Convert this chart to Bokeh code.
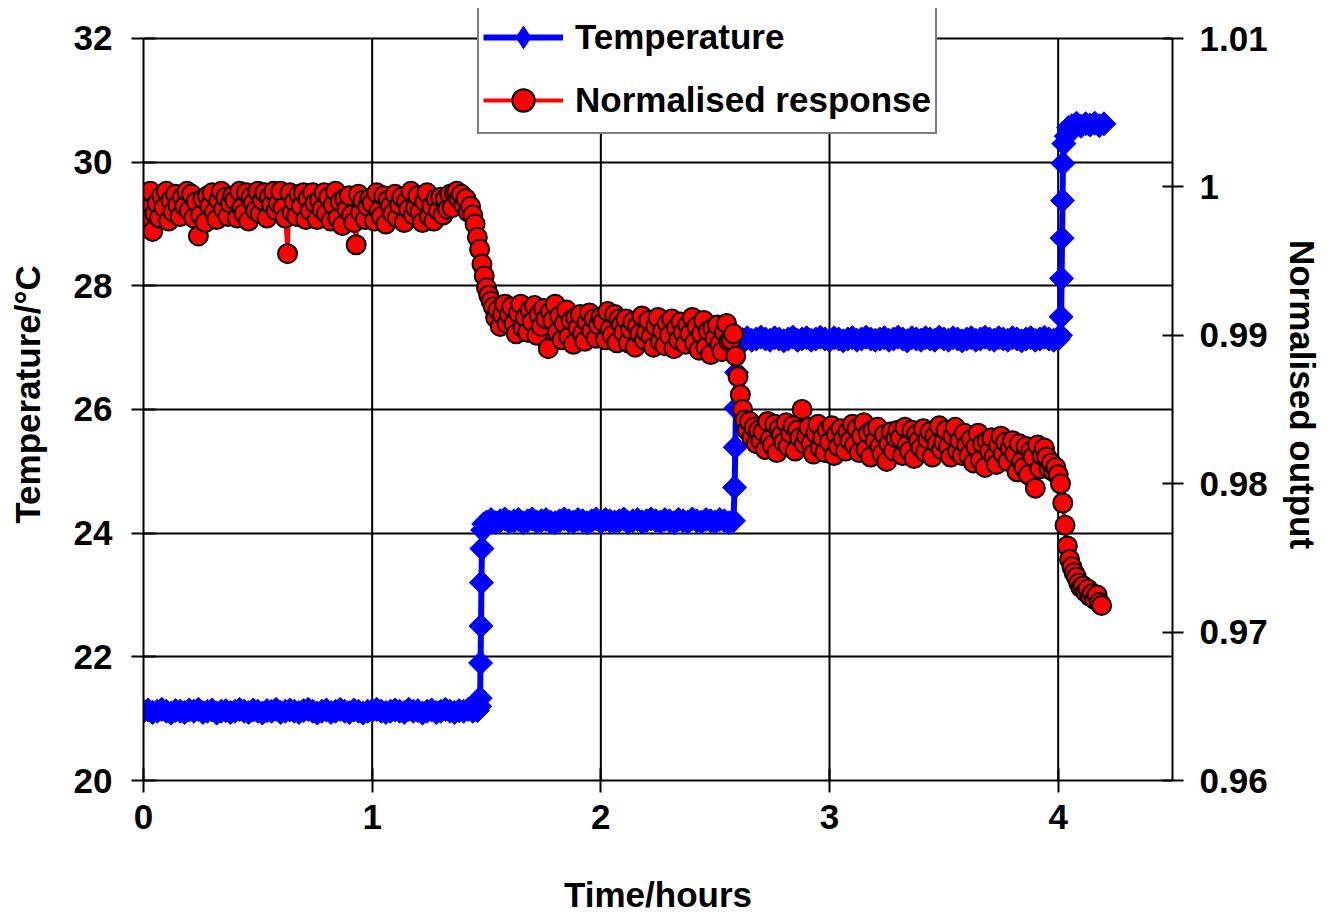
import numpy as np
from bokeh.plotting import figure
from bokeh.models import (Range1d, LinearAxis, FixedTicker, Legend, LegendItem,
                          CustomJSTickFormatter)
from bokeh.embed import file_html
from bokeh.resources import INLINE

# ---- temperature log (hours, deg C) ----
temp_hours = [
    0.00, 0.02, 0.04, 0.06, 0.08, 0.10, 0.12, 0.14, 0.16, 0.18,
    0.20, 0.22, 0.24, 0.26, 0.28, 0.30, 0.32, 0.34, 0.36, 0.38,
    0.40, 0.42, 0.44, 0.46, 0.48, 0.50, 0.52, 0.54, 0.56, 0.58,
    0.60, 0.62, 0.64, 0.66, 0.68, 0.70, 0.72, 0.74, 0.76, 0.78,
    0.80, 0.82, 0.84, 0.86, 0.88, 0.90, 0.92, 0.94, 0.96, 0.98,
    1.00, 1.02, 1.04, 1.06, 1.08, 1.10, 1.12, 1.14, 1.16, 1.18,
    1.20, 1.22, 1.24, 1.26, 1.28, 1.30, 1.32, 1.34, 1.36, 1.38,
    1.40, 1.42, 1.44, 1.46,
    1.470, 1.472, 1.474, 1.476, 1.478, 1.480, 1.483, 1.488,
    1.50, 1.52, 1.54, 1.56, 1.58, 1.60, 1.62, 1.64, 1.66, 1.68,
    1.70, 1.72, 1.74, 1.76, 1.78, 1.80, 1.82, 1.84, 1.86, 1.88,
    1.90, 1.92, 1.94, 1.96, 1.98, 2.00, 2.02, 2.04, 2.06, 2.08,
    2.10, 2.12, 2.14, 2.16, 2.18, 2.20, 2.22, 2.24, 2.26, 2.28,
    2.30, 2.32, 2.34, 2.36, 2.38, 2.40, 2.42, 2.44, 2.46, 2.48,
    2.50, 2.52, 2.54, 2.56, 2.58,
    2.585, 2.588, 2.591, 2.594, 2.597, 2.600,
    2.62, 2.64, 2.66, 2.68, 2.70, 2.72, 2.74, 2.76, 2.78, 2.80,
    2.82, 2.84, 2.86, 2.88, 2.90, 2.92, 2.94, 2.96, 2.98, 3.00,
    3.02, 3.04, 3.06, 3.08, 3.10, 3.12, 3.14, 3.16, 3.18, 3.20,
    3.22, 3.24, 3.26, 3.28, 3.30, 3.32, 3.34, 3.36, 3.38, 3.40,
    3.42, 3.44, 3.46, 3.48, 3.50, 3.52, 3.54, 3.56, 3.58, 3.60,
    3.62, 3.64, 3.66, 3.68, 3.70, 3.72, 3.74, 3.76, 3.78, 3.80,
    3.82, 3.84, 3.86, 3.88, 3.90, 3.92, 3.94, 3.96, 3.98, 4.00,
    4.010, 4.013, 4.015, 4.017, 4.019, 4.021, 4.025, 4.035, 4.045,
    4.06, 4.08, 4.10, 4.12, 4.14, 4.16, 4.18, 4.20,
]
temp_values = [
    21.12, 21.14, 21.10, 21.12, 21.15, 21.12, 21.09, 21.13, 21.12, 21.10,
    21.14, 21.12, 21.15, 21.10, 21.12, 21.14, 21.09, 21.12, 21.13, 21.10,
    21.12, 21.15, 21.12, 21.10, 21.14, 21.12, 21.09, 21.13, 21.12, 21.15,
    21.10, 21.12, 21.14, 21.12, 21.10, 21.13, 21.15, 21.12, 21.09, 21.12,
    21.14, 21.10, 21.12, 21.15, 21.12, 21.10, 21.14, 21.12, 21.09, 21.12,
    21.13, 21.15, 21.12, 21.10, 21.12, 21.14, 21.12, 21.10, 21.15, 21.12,
    21.13, 21.09, 21.12, 21.14, 21.10, 21.12, 21.15, 21.12, 21.10, 21.13,
    21.12, 21.15, 21.12, 21.13,
    21.20, 21.33, 21.90, 22.50, 23.20, 23.75, 24.05, 24.15,
    24.18, 24.22, 24.17, 24.20, 24.23, 24.18, 24.20, 24.22, 24.17, 24.20,
    24.23, 24.18, 24.20, 24.22, 24.18, 24.17, 24.20, 24.23, 24.20, 24.18,
    24.22, 24.20, 24.17, 24.20, 24.23, 24.18, 24.22, 24.20, 24.18, 24.20,
    24.23, 24.17, 24.20, 24.22, 24.18, 24.20, 24.23, 24.20, 24.18, 24.22,
    24.20, 24.17, 24.22, 24.20, 24.18, 24.23, 24.20, 24.18, 24.22, 24.20,
    24.18, 24.22, 24.20, 24.17, 24.20,
    24.74, 25.39, 26.02, 26.60, 27.00, 27.12,
    27.13, 27.16, 27.12, 27.14, 27.17, 27.14, 27.12, 27.16, 27.14, 27.11,
    27.14, 27.17, 27.12, 27.14, 27.16, 27.12, 27.14, 27.17, 27.14, 27.12,
    27.16, 27.14, 27.11, 27.14, 27.16, 27.12, 27.14, 27.17, 27.14, 27.12,
    27.14, 27.16, 27.12, 27.14, 27.17, 27.14, 27.11, 27.16, 27.14, 27.12,
    27.16, 27.14, 27.12, 27.17, 27.14, 27.12, 27.16, 27.14, 27.11, 27.14,
    27.16, 27.12, 27.14, 27.17, 27.14, 27.12, 27.16, 27.14, 27.12, 27.16,
    27.14, 27.11, 27.14, 27.16, 27.12, 27.14, 27.17, 27.14, 27.12, 27.14,
    27.20, 27.50, 28.12, 28.77, 29.38, 29.98, 30.30, 30.42, 30.56,
    30.59, 30.63, 30.58, 30.62, 30.60, 30.63, 30.59, 30.62,
]

# ---- normalised sensor output, logged every 0.01 h ----
resp_hours = [
    0.00, 0.01, 0.02, 0.03, 0.04, 0.05, 0.06, 0.07, 0.08, 0.09,
    0.10, 0.11, 0.12, 0.13, 0.14, 0.15, 0.16, 0.17, 0.18, 0.19,
    0.20, 0.21, 0.22, 0.23, 0.24, 0.25, 0.26, 0.27, 0.28, 0.29,
    0.30, 0.31, 0.32, 0.33, 0.34, 0.35, 0.36, 0.37, 0.38, 0.39,
    0.40, 0.41, 0.42, 0.43, 0.44, 0.45, 0.46, 0.47, 0.48, 0.49,
    0.50, 0.51, 0.52, 0.53, 0.54, 0.55, 0.56, 0.57, 0.58, 0.59,
    0.60, 0.61, 0.62, 0.63, 0.64, 0.65, 0.66, 0.67, 0.68, 0.69,
    0.70, 0.71, 0.72, 0.73, 0.74, 0.75, 0.76, 0.77, 0.78, 0.79,
    0.80, 0.81, 0.82, 0.83, 0.84, 0.85, 0.86, 0.87, 0.88, 0.89,
    0.90, 0.91, 0.92, 0.93, 0.94, 0.95, 0.96, 0.97, 0.98, 0.99,
    1.00, 1.01, 1.02, 1.03, 1.04, 1.05, 1.06, 1.07, 1.08, 1.09,
    1.10, 1.11, 1.12, 1.13, 1.14, 1.15, 1.16, 1.17, 1.18, 1.19,
    1.20, 1.21, 1.22, 1.23, 1.24, 1.25, 1.26, 1.27, 1.28, 1.29,
    1.30, 1.31, 1.32, 1.33, 1.34, 1.35, 1.36, 1.37, 1.38, 1.39,
    1.40, 1.41, 1.42, 1.43, 1.44, 1.45, 1.46, 1.47, 1.48, 1.49,
    1.50, 1.51, 1.52, 1.53, 1.54, 1.55, 1.56, 1.57, 1.58, 1.59,
    1.60, 1.61, 1.62, 1.63, 1.64, 1.65, 1.66, 1.67, 1.68, 1.69,
    1.70, 1.71, 1.72, 1.73, 1.74, 1.75, 1.76, 1.77, 1.78, 1.79,
    1.80, 1.81, 1.82, 1.83, 1.84, 1.85, 1.86, 1.87, 1.88, 1.89,
    1.90, 1.91, 1.92, 1.93, 1.94, 1.95, 1.96, 1.97, 1.98, 1.99,
    2.00, 2.01, 2.02, 2.03, 2.04, 2.05, 2.06, 2.07, 2.08, 2.09,
    2.10, 2.11, 2.12, 2.13, 2.14, 2.15, 2.16, 2.17, 2.18, 2.19,
    2.20, 2.21, 2.22, 2.23, 2.24, 2.25, 2.26, 2.27, 2.28, 2.29,
    2.30, 2.31, 2.32, 2.33, 2.34, 2.35, 2.36, 2.37, 2.38, 2.39,
    2.40, 2.41, 2.42, 2.43, 2.44, 2.45, 2.46, 2.47, 2.48, 2.49,
    2.50, 2.51, 2.52, 2.53, 2.54, 2.55, 2.56, 2.57, 2.58, 2.59,
    2.60, 2.61, 2.62, 2.63, 2.64, 2.65, 2.66, 2.67, 2.68, 2.69,
    2.70, 2.71, 2.72, 2.73, 2.74, 2.75, 2.76, 2.77, 2.78, 2.79,
    2.80, 2.81, 2.82, 2.83, 2.84, 2.85, 2.86, 2.87, 2.88, 2.89,
    2.90, 2.91, 2.92, 2.93, 2.94, 2.95, 2.96, 2.97, 2.98, 2.99,
    3.00, 3.01, 3.02, 3.03, 3.04, 3.05, 3.06, 3.07, 3.08, 3.09,
    3.10, 3.11, 3.12, 3.13, 3.14, 3.15, 3.16, 3.17, 3.18, 3.19,
    3.20, 3.21, 3.22, 3.23, 3.24, 3.25, 3.26, 3.27, 3.28, 3.29,
    3.30, 3.31, 3.32, 3.33, 3.34, 3.35, 3.36, 3.37, 3.38, 3.39,
    3.40, 3.41, 3.42, 3.43, 3.44, 3.45, 3.46, 3.47, 3.48, 3.49,
    3.50, 3.51, 3.52, 3.53, 3.54, 3.55, 3.56, 3.57, 3.58, 3.59,
    3.60, 3.61, 3.62, 3.63, 3.64, 3.65, 3.66, 3.67, 3.68, 3.69,
    3.70, 3.71, 3.72, 3.73, 3.74, 3.75, 3.76, 3.77, 3.78, 3.79,
    3.80, 3.81, 3.82, 3.83, 3.84, 3.85, 3.86, 3.87, 3.88, 3.89,
    3.90, 3.91, 3.92, 3.93, 3.94, 3.95, 3.96, 3.97, 3.98, 3.99,
    4.00, 4.01, 4.02, 4.03, 4.04, 4.05, 4.06, 4.07, 4.08, 4.09,
    4.10, 4.11, 4.12, 4.13, 4.14, 4.15, 4.16, 4.17, 4.18, 4.19,
]
resp_values = [
    # 0.00 - 0.49
    0.9996, 0.9985, 0.9978, 0.9997, 0.9970, 0.9982, 0.9989, 0.9979, 0.9994, 0.9986,
    0.9997, 0.9977, 0.9991, 0.9983, 0.9995, 0.9988, 0.9980, 0.9993, 0.9987, 0.9997,
    0.9984, 0.9995, 0.9979, 0.9990, 0.9967, 0.9981, 0.9992, 0.9976, 0.9994, 0.9987,
    0.9996, 0.9983, 0.9978, 0.9991, 0.9997, 0.9985, 0.9993, 0.9980, 0.9989, 0.9994,
    0.9991, 0.9979, 0.9997, 0.9986, 0.9982, 0.9996, 0.9977, 0.9993, 0.9989, 0.9984,
    # 0.50 - 0.99
    0.9997, 0.9982, 0.9991, 0.9996, 0.9979, 0.9993, 0.9988, 0.9997, 0.9984, 0.9989,
    0.9997, 0.9986, 0.9979, 0.9955, 0.9996, 0.9983, 0.9990, 0.9980, 0.9995, 0.9987,
    0.9996, 0.9978, 0.9992, 0.9984, 0.9996, 0.9989, 0.9978, 0.9991, 0.9985, 0.9996,
    0.9982, 0.9993, 0.9977, 0.9988, 0.9997, 0.9979, 0.9990, 0.9974, 0.9992, 0.9985,
    0.9994, 0.9981, 0.9976, 0.9961, 0.9995, 0.9983, 0.9991, 0.9978, 0.9987, 0.9992,
    # 1.00 - 1.49
    0.9989, 0.9977, 0.9996, 0.9984, 0.9980, 0.9994, 0.9975, 0.9991, 0.9987, 0.9982,
    0.9995, 0.9979, 0.9988, 0.9993, 0.9976, 0.9990, 0.9985, 0.9997, 0.9981, 0.9986,
    0.9994, 0.9983, 0.9976, 0.9990, 0.9996, 0.9980, 0.9987, 0.9977, 0.9992, 0.9984,
    0.9993, 0.9981, 0.9992, 0.9985, 0.9995, 0.9986, 0.9996, 0.9997, 0.9992, 0.9995,
    0.9988, 0.9992, 0.9983, 0.9987, 0.9981, 0.9975, 0.9966, 0.9958, 0.9948, 0.9940,
    # 1.50 - 1.99
    0.9932, 0.9927, 0.9923, 0.9919, 0.9912, 0.9917, 0.9906, 0.9914, 0.9921, 0.9908,
    0.9914, 0.9919, 0.9908, 0.9901, 0.9915, 0.9921, 0.9905, 0.9912, 0.9902, 0.9917,
    0.9909, 0.9920, 0.9900, 0.9914, 0.9906, 0.9918, 0.9911, 0.9891, 0.9916, 0.9910,
    0.9921, 0.9902, 0.9913, 0.9897, 0.9908, 0.9917, 0.9899, 0.9910, 0.9894, 0.9912,
    0.9905, 0.9914, 0.9901, 0.9896, 0.9909, 0.9915, 0.9903, 0.9911, 0.9898, 0.9907,
    # 2.00 - 2.49
    0.9912, 0.9909, 0.9897, 0.9916, 0.9904, 0.9900, 0.9914, 0.9895, 0.9911, 0.9907,
    0.9902, 0.9911, 0.9895, 0.9904, 0.9909, 0.9892, 0.9906, 0.9901, 0.9913, 0.9897,
    0.9902, 0.9910, 0.9899, 0.9892, 0.9906, 0.9912, 0.9896, 0.9903, 0.9893, 0.9908,
    0.9900, 0.9911, 0.9891, 0.9905, 0.9897, 0.9909, 0.9902, 0.9894, 0.9907, 0.9901,
    0.9912, 0.9895, 0.9906, 0.9890, 0.9901, 0.9910, 0.9892, 0.9903, 0.9887, 0.9905,
    # 2.50 - 2.99
    0.9898, 0.9907, 0.9894, 0.9889, 0.9902, 0.9908, 0.9896, 0.9897, 0.9901, 0.9886,
    0.9872, 0.9860, 0.9850, 0.9843, 0.9836, 0.9842, 0.9831, 0.9838, 0.9827, 0.9836,
    0.9829, 0.9835, 0.9823, 0.9842, 0.9830, 0.9826, 0.9840, 0.9821, 0.9837, 0.9833,
    0.9828, 0.9841, 0.9825, 0.9834, 0.9839, 0.9822, 0.9836, 0.9831, 0.9850, 0.9827,
    0.9832, 0.9838, 0.9827, 0.9820, 0.9834, 0.9840, 0.9824, 0.9831, 0.9821, 0.9836,
    # 3.00 - 3.49
    0.9828, 0.9839, 0.9819, 0.9833, 0.9825, 0.9837, 0.9830, 0.9822, 0.9835, 0.9829,
    0.9840, 0.9826, 0.9837, 0.9821, 0.9832, 0.9841, 0.9823, 0.9834, 0.9818, 0.9836,
    0.9829, 0.9838, 0.9825, 0.9820, 0.9833, 0.9815, 0.9827, 0.9835, 0.9822, 0.9831,
    0.9836, 0.9831, 0.9819, 0.9838, 0.9826, 0.9822, 0.9836, 0.9817, 0.9833, 0.9829,
    0.9824, 0.9837, 0.9821, 0.9830, 0.9835, 0.9818, 0.9832, 0.9827, 0.9839, 0.9823,
    # 3.50 - 3.99
    0.9828, 0.9836, 0.9825, 0.9818, 0.9832, 0.9838, 0.9822, 0.9829, 0.9819, 0.9834,
    0.9826, 0.9819, 0.9830, 0.9814, 0.9825, 0.9834, 0.9816, 0.9827, 0.9811, 0.9829,
    0.9822, 0.9831, 0.9818, 0.9813, 0.9826, 0.9832, 0.9820, 0.9828, 0.9815, 0.9824,
    0.9829, 0.9820, 0.9808, 0.9827, 0.9815, 0.9811, 0.9825, 0.9806, 0.9822, 0.9818,
    0.9797, 0.9826, 0.9810, 0.9819, 0.9824, 0.9818, 0.9810, 0.9814, 0.9808, 0.9811,
    # 4.00 - 4.19
    0.9806, 0.9800, 0.9787, 0.9772, 0.9758, 0.9749, 0.9744, 0.9740, 0.9737, 0.9733,
    0.9730, 0.9731, 0.9727, 0.9729, 0.9724, 0.9726, 0.9722, 0.9725, 0.9720, 0.9718,
]

hour_ticks = [0, 1, 2, 3, 4]
hour_grid = [1, 2, 3, 4]
temp_ticks = [20, 22, 24, 26, 28, 30, 32]
norm_ticks = [0.96, 0.97, 0.98, 0.99, 1.00, 1.01]

FONT = "Liberation Sans"
FS = "35px"

# the frame reaches a little above the top tick so the legend box can sit there
p = figure(width=1328, height=916,
           x_range=Range1d(0, 4.5), y_range=Range1d(20, 32.485),
           output_backend="svg", toolbar_location=None,
           min_border_left=143, min_border_right=156,
           min_border_top=8, min_border_bottom=136)
p.extra_y_ranges = {"norm": Range1d(0.96, 1.012022)}
p.background_fill_color = "white"
p.border_fill_color = "white"
p.outline_line_color = None


def style_axis(ax, tin, tout):
    ax.axis_line_color = "black"
    ax.axis_line_width = 2
    ax.major_tick_line_color = "black"
    ax.major_tick_line_width = 2
    ax.major_tick_in = tin
    ax.major_tick_out = tout
    ax.minor_tick_line_color = None
    ax.major_label_text_font = FONT
    ax.major_label_text_font_style = "bold"
    ax.major_label_text_font_size = FS
    ax.major_label_text_color = "black"
    ax.axis_label_text_font = FONT
    ax.axis_label_text_font_style = "bold"
    ax.axis_label_text_font_size = FS
    ax.axis_label_text_color = "black"


p.xaxis.ticker = FixedTicker(ticks=hour_ticks)
p.xaxis.axis_label = "Time/hours"
style_axis(p.xaxis[0], 12, 12)
p.xaxis.major_label_standoff = 12
p.xaxis.axis_label_standoff = 43

p.yaxis.ticker = FixedTicker(ticks=temp_ticks)
p.yaxis.axis_label = "Temperature/\u00b0C"
p.yaxis.bounds = (temp_ticks[0], temp_ticks[-1])
style_axis(p.yaxis[0], 12, 12)
p.yaxis.major_label_standoff = 19
p.yaxis.axis_label_standoff = 24

right = LinearAxis(y_range_name="norm",
                   ticker=FixedTicker(ticks=norm_ticks),
                   formatter=CustomJSTickFormatter(
                       code="return String(Math.round(tick * 100) / 100);"),
                   axis_label="Normalised output",
                   bounds=(norm_ticks[0], norm_ticks[-1]))
style_axis(right, 10, 11)
right.major_label_standoff = 16
right.axis_label_standoff = 12
p.add_layout(right, "right")

# horizontal grid from the temperature ticks, vertical grid stops at the top tick
p.xgrid.visible = False
p.ygrid.ticker = FixedTicker(ticks=temp_ticks[1:])
p.ygrid.grid_line_color = "black"
p.ygrid.grid_line_width = 2
p.segment(x0=hour_grid, y0=[temp_ticks[0]] * len(hour_grid),
          x1=hour_grid, y1=[temp_ticks[-1]] * len(hour_grid),
          line_color="black", line_width=2)

BLUE = "#0000FF"
RED = "#FF0000"

t_line = p.line(temp_hours, temp_values, line_color=BLUE, line_width=6)
t_pts = p.scatter(temp_hours, temp_values, marker="square", angle=np.pi / 4,
                  size=17, fill_color=BLUE, line_color=BLUE, line_width=1)
# diamond key used only by the legend entry
t_key = p.scatter(temp_hours, temp_values, marker="diamond", size=17,
                  fill_color=BLUE, line_color=BLUE, visible=False)

r_line = p.line(resp_hours, resp_values, y_range_name="norm",
                line_color=RED, line_width=4)
r_pts = p.scatter(resp_hours, resp_values, y_range_name="norm", marker="circle",
                  size=19, fill_color=RED, line_color="black", line_width=2)

legend = Legend(items=[LegendItem(label="Temperature", renderers=[t_line, t_key]),
                       LegendItem(label="Normalised response", renderers=[r_line, r_pts])],
                location=(334, 646), margin=0, padding=4, spacing=7,
                glyph_width=80, glyph_height=56, label_standoff=12,
                label_text_font=FONT, label_text_font_style="bold",
                label_text_font_size=FS, label_text_color="black",
                border_line_color="black", border_line_width=2,
                background_fill_color="white", background_fill_alpha=1.0)
p.add_layout(legend, "center")

open("out.html", "w").write(file_html(p, INLINE))
